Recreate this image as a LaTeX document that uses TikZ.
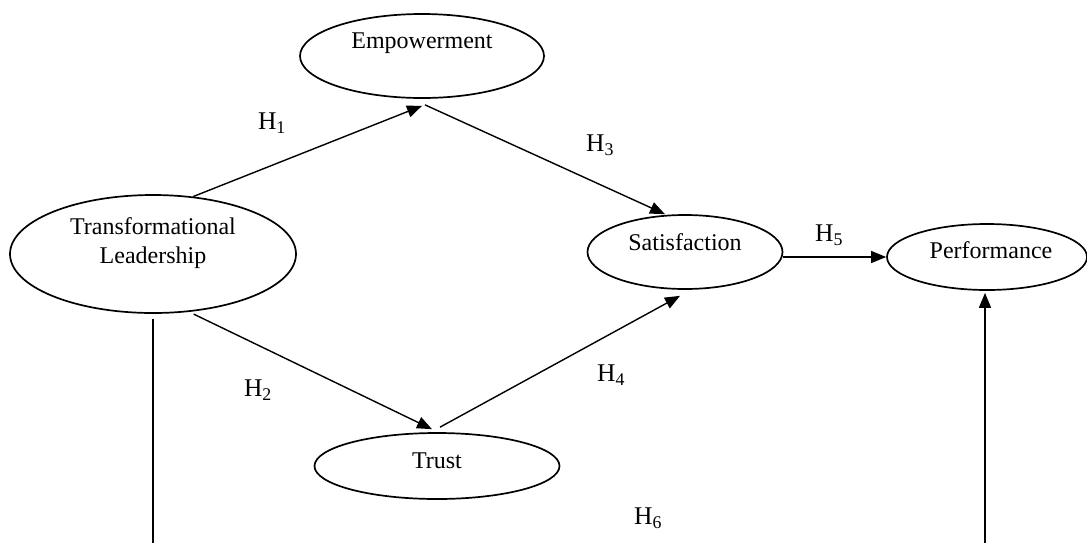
\documentclass[tikz,border=0pt]{standalone}
\usepackage{fontspec}
\setmainfont{Liberation Serif}
\usetikzlibrary{arrows.meta,positioning,shapes.geometric}

\begin{document}
\begin{tikzpicture}[x=1pt,y=-1pt,on grid,
    font=\fontsize{24}{29}\selectfont,
    construct/.style={ellipse,draw,line width=1.7pt,inner sep=0pt},
    hpath/.style={-{Triangle[length=15pt,width=12pt]},line width=1.4pt},
    plain/.style={line width=1.4pt},
    hyp/.style={font=\fontsize{25.5}{29}\selectfont}]
   \useasboundingbox (0,0) rectangle (1087,542);
   \node[construct,minimum width=286pt,minimum height=118pt,
         label={[align=center,yshift=11pt]center:Transformational\\Leadership}] (tl) at (153,254) {};
   \node[construct,minimum width=244pt,minimum height=84pt,
         label={[yshift=13pt]center:Empowerment}] (emp) [above right=198pt and 269pt of tl] {};
   \node[construct,minimum width=195pt,minimum height=74pt,
         label={[yshift=10pt]center:Satisfaction}] (sat) [below right=196pt and 263pt of emp] {};
   \node[construct,minimum width=200pt,minimum height=66pt,
         label={[xshift=4pt,yshift=7pt]center:Performance}] (perf) [right=302pt of sat,yshift=-5pt] {};
   \node[construct,minimum width=245pt,minimum height=66pt,
         label={[yshift=5pt]center:Trust}] (trust) [below right=212pt and 284pt of tl] {};
   \coordinate (floor) at (0,560);

   % hypotheses
   \draw[hpath] (tl.55) -- ([yshift=-7pt]emp.south);
   \draw[hpath] ([xshift=3pt,yshift=-6pt]emp.south) -- ([xshift=-20pt]sat.north);
   \draw[hpath,shorten <=5pt] (tl.-58) -- ([xshift=-5pt,yshift=3pt]trust.north);
   \draw[hpath] ([xshift=3pt,yshift=5pt]trust.north) -- ([xshift=-5pt,yshift=-6pt]sat.south);
   \draw[hpath] (sat.east |- perf.west) -- (perf.west);
   \draw[plain] ([yshift=-5pt]tl.south) -- (tl.south |- floor);
   \draw[hpath] ([xshift=-2pt]perf.south |- floor) -- ([xshift=-2pt,yshift=-2pt]perf.south);

   \node[hyp] (h1) at (272,123) {H\textsubscript{1}};
   \node[hyp] (h2) at (258,390) {H\textsubscript{2}};
   \node[hyp] (h3) at (600,145) {H\textsubscript{3}};
   \node[hyp] (h4) at (611,375) {H\textsubscript{4}};
   \node[hyp] (h5) at (829,235) {H\textsubscript{5}};
   \node[hyp] (h6) at (648,518) {H\textsubscript{6}};
\end{tikzpicture}
\end{document}
